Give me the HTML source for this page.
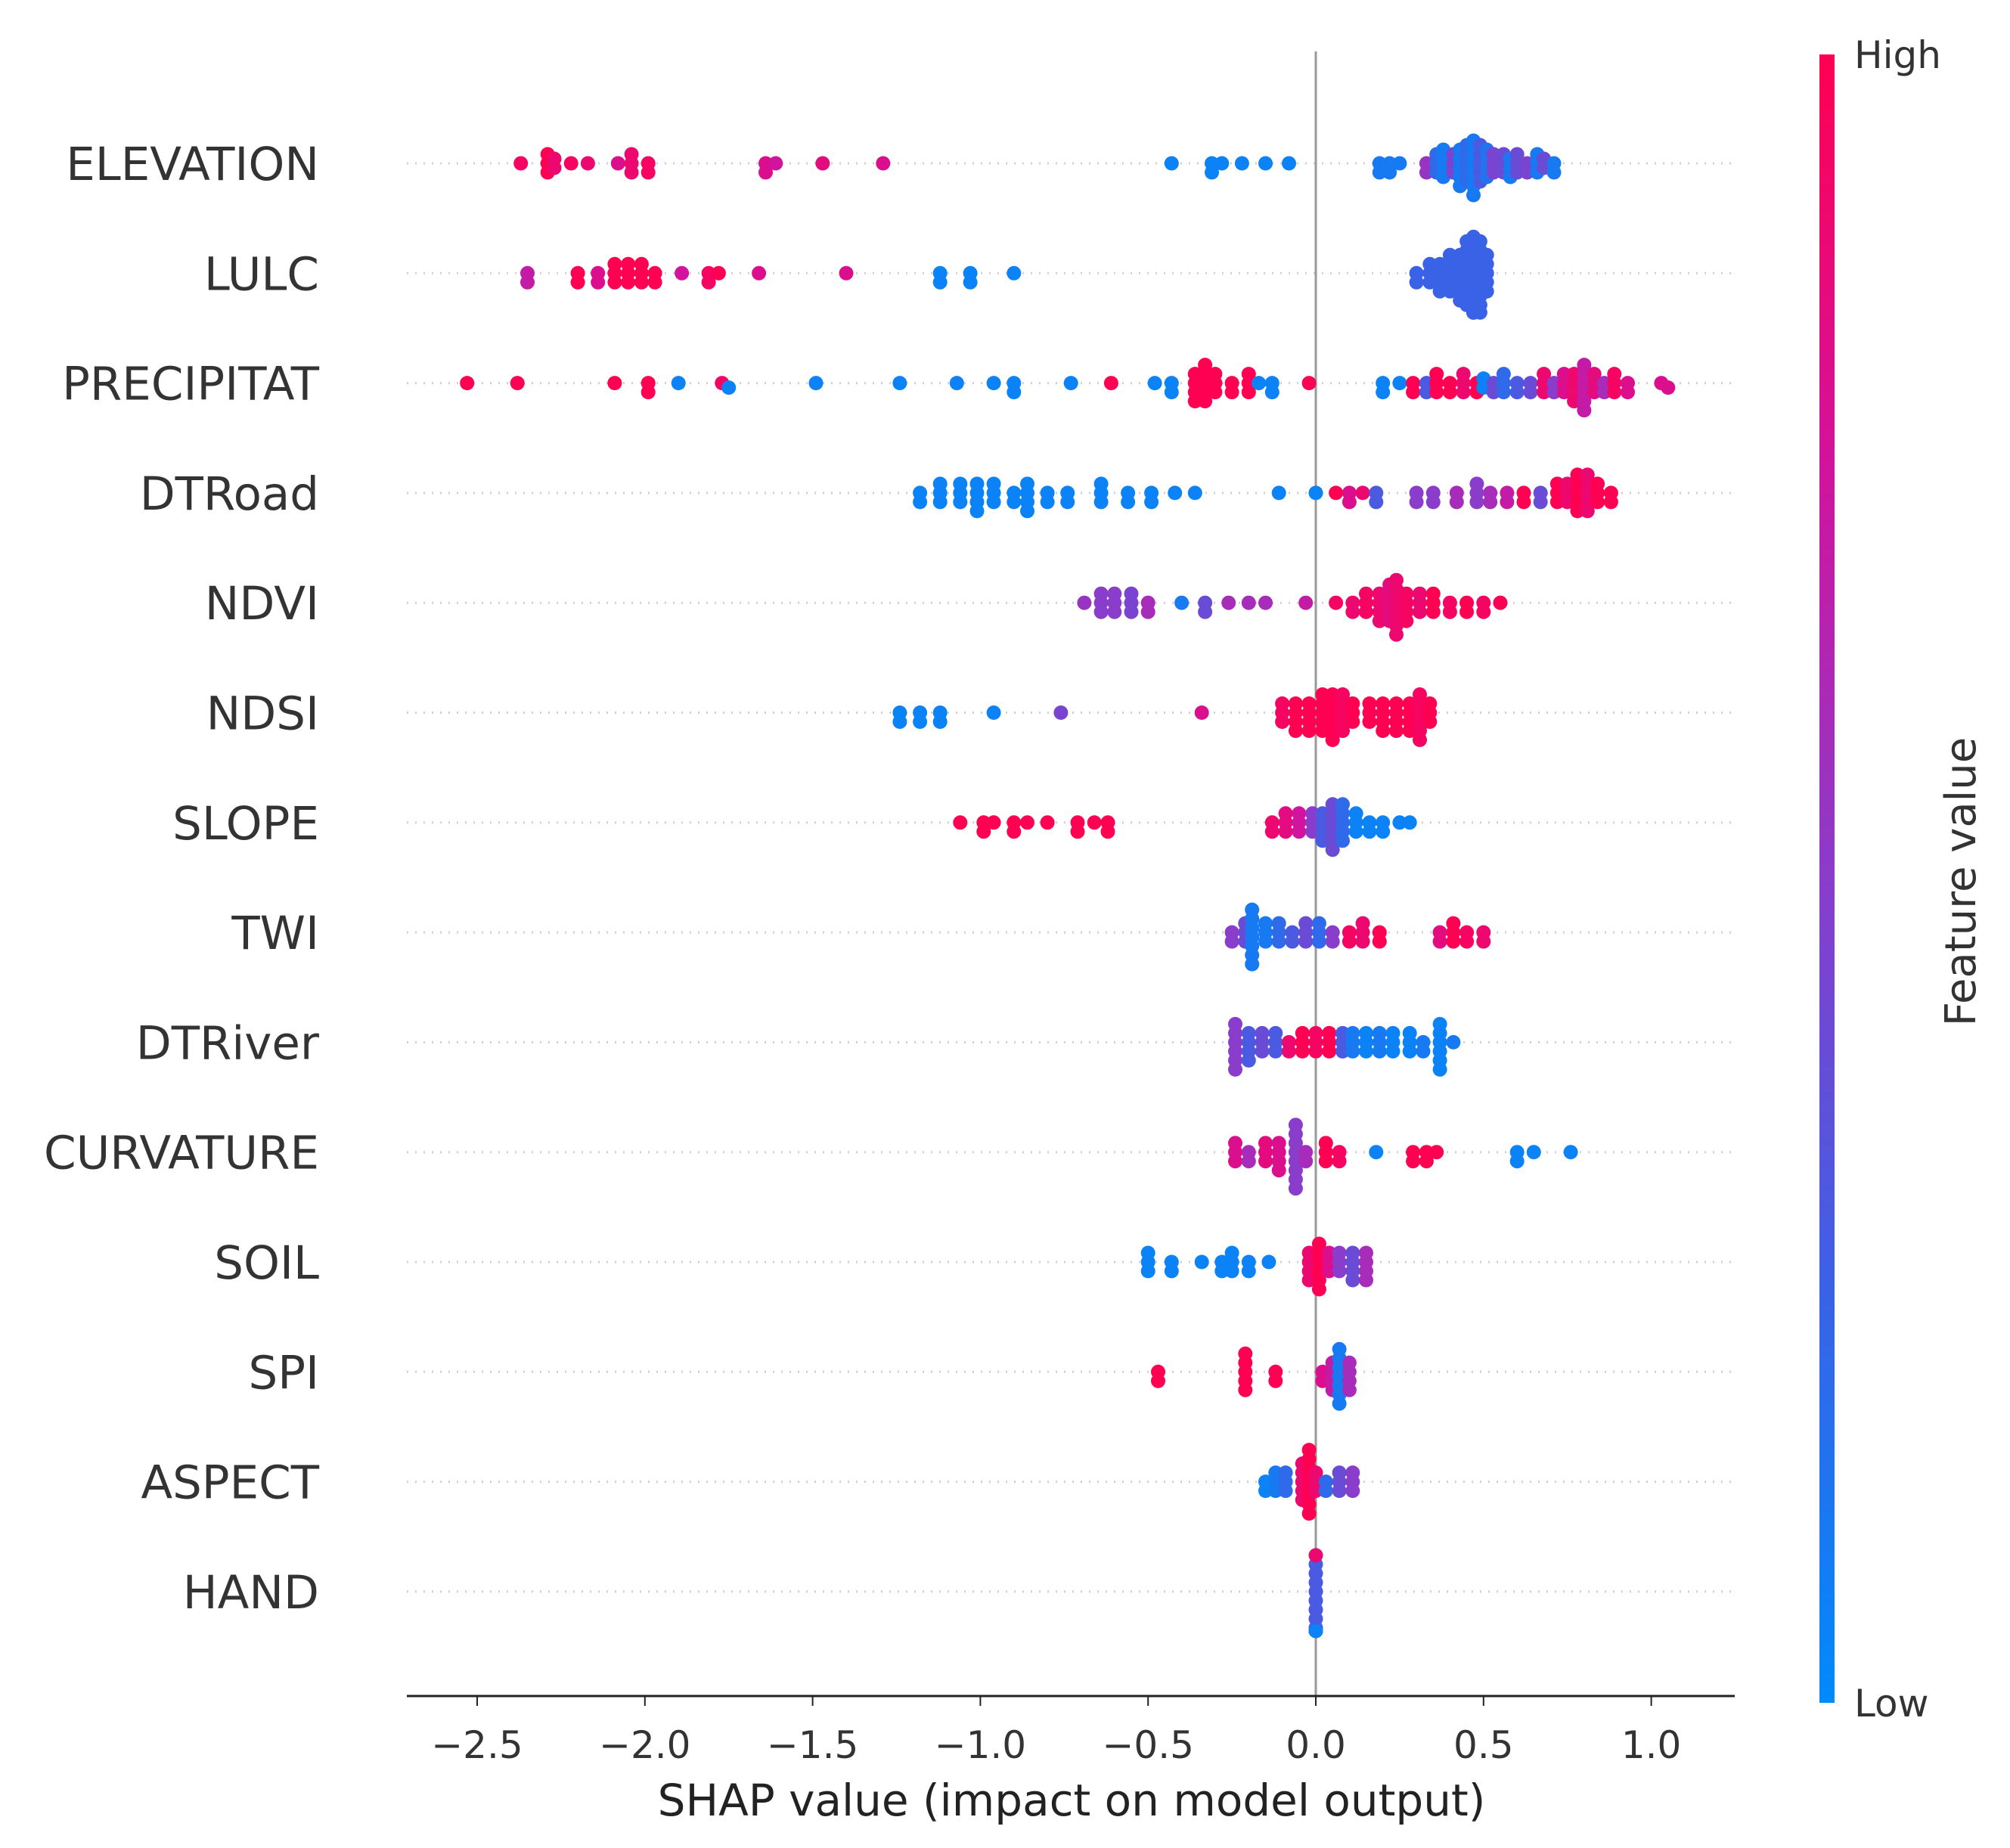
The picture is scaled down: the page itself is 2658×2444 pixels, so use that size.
<!DOCTYPE html>
<html><head><meta charset="utf-8"><style>
html,body{margin:0;padding:0;background:#fff;}
svg{display:block;font-family:"DejaVu Sans","Liberation Sans",sans-serif;}
</style></head><body>
<svg id="chart" width="2658" height="2444" viewBox="0 0 2658 2444" xmlns="http://www.w3.org/2000/svg">
<defs><linearGradient id="cbg" x1="0" y1="1" x2="0" y2="0">
<stop offset="0" stop-color="#008afb"/><stop offset="0.25" stop-color="#3a62e6"/><stop offset="0.5" stop-color="#8a3ccb"/><stop offset="0.75" stop-color="#d2139d"/><stop offset="1" stop-color="#ff0052"/>
</linearGradient></defs>
<g id="grid"></g><g id="dots"></g><g id="axes"></g>
</svg>
<script>
const features = ["ELEVATION","LULC","PRECIPITAT","DTRoad","NDVI","NDSI","SLOPE","TWI","DTRiver","CURVATURE","SOIL","SPI","ASPECT","HAND"];
const xTicks = [-2.5,-2.0,-1.5,-1.0,-0.5,0.0,0.5,1.0];
const xTickLabels = ["\u22122.5","\u22122.0","\u22121.5","\u22121.0","\u22120.5","0.0","0.5","1.0"];
// each point: [shap value, feature value (0 low .. 1 high), count]
const sElevation = [[-2.37,0.95,1],[-2.29,1,3],[-2.27,0.9,2],[-2.22,0.95,1],[-2.17,0.9,1],[-2.08,0.8,1],[-2.04,0.9,3],[-1.99,0.95,2],[-1.64,0.8,2],[-1.61,0.75,1],[-1.47,0.85,1],[-1.29,0.8,1],
 [-0.43,0.05,1],[-0.31,0.05,2],[-0.28,0.05,1],[-0.22,0.05,1],[-0.15,0.05,1],[-0.08,0.05,1],[0.19,0.1,2],[0.22,0.1,2],[0.25,0.1,1],
 [0.33,0.55,2],[0.36,0.2,3],[0.38,0.1,4],[0.41,0.45,3],[0.43,0.1,5],[0.45,0.2,5],[0.47,0.1,7],[0.49,0.3,5],[0.51,0.15,4],[0.53,0.45,3],[0.56,0.4,3],[0.58,0.1,3],[0.6,0.4,3],[0.63,0.45,2],[0.66,0.1,3],[0.68,0.4,2],[0.71,0.1,2]];
const sLulc = [[-2.35,0.7,2],[-2.2,1,2],[-2.14,0.8,2],[-2.09,1,3],[-2.05,1,3],[-2.01,1,3],[-1.97,1,2],[-1.89,0.75,1],[-1.81,0.95,2],[-1.78,1,1],[-1.66,0.8,1],[-1.4,0.8,1],
 [-1.12,0.05,2],[-1.03,0.05,2],[-0.9,0.05,1],[0.3,0.25,2],[0.34,0.25,3],[0.37,0.25,4],[0.4,0.25,5],[0.43,0.25,6],[0.45,0.25,8],[0.47,0.25,12],[0.49,0.25,9],[0.51,0.25,5]];
const sPrecip = [[-2.53,1,1],[-2.38,1,1],[-2.09,1,1],[-1.99,1,2],[-1.9,0.05,1],[-1.77,0.95,1],[-1.75,0.05,1],[-1.49,0.05,1],[-1.24,0.05,1],[-1.07,0.05,1],[-0.96,0.05,1],[-0.9,0.05,2],[-0.73,0.05,1],[-0.61,1,1],
 [-0.48,0.05,1],[-0.43,0.05,2],[-0.36,1,4],[-0.33,1,5],[-0.3,1,3],[-0.25,1,2],[-0.2,1,3],[-0.17,0.05,1],[-0.13,0.05,2],[-0.02,1,1],
 [0.2,0.05,2],[0.25,0.05,1],[0.29,1,2],[0.33,0.3,2],[0.36,1,3],[0.4,1,2],[0.44,0.9,3],[0.48,1,2],[0.5,0.05,2],[0.53,0.4,2],[0.56,0.2,3],[0.6,0.3,2],[0.64,0.4,2],[0.68,0.9,3],[0.71,0.5,2],
 [0.74,0.8,3],[0.77,0.9,4],[0.8,0.7,6],[0.83,0.85,3],[0.86,0.6,2],[0.89,0.95,3],[0.93,0.8,2],[1.03,0.8,1],[1.05,0.8,1]];
const sDtroad = [[-1.18,0.05,2],[-1.12,0.05,3],[-1.06,0.05,3],[-1.01,0.05,4],[-0.96,0.05,3],[-0.9,0.05,2],[-0.86,0.05,4],[-0.8,0.05,2],[-0.74,0.05,2],[-0.64,0.05,3],[-0.56,0.05,2],[-0.49,0.05,2],[-0.42,0.05,1],[-0.36,0.05,1],
 [-0.11,0.05,1],[0.0,0.05,1],[0.06,1,1],[0.1,0.8,2],[0.14,0.9,1],[0.18,0.3,2],[0.3,0.5,2],[0.35,0.5,2],[0.42,0.6,2],[0.48,0.5,3],[0.52,0.6,2],[0.57,0.7,2],[0.62,1,2],[0.67,0.4,2],
 [0.72,1,3],[0.75,0.9,3],[0.78,1,5],[0.81,0.9,5],[0.84,1,3],[0.88,1,2]];
const sNdvi = [[-0.69,0.55,1],[-0.64,0.5,3],[-0.6,0.5,3],[-0.55,0.45,3],[-0.5,0.6,2],[-0.4,0.1,1],[-0.33,0.4,2],[-0.26,0.6,1],[-0.2,0.6,1],[-0.15,0.6,1],[-0.03,0.7,1],[0.06,0.95,1],
 [0.11,0.9,2],[0.15,0.95,3],[0.19,0.9,4],[0.22,0.85,5],[0.24,0.9,7],[0.27,0.95,4],[0.31,0.9,3],[0.35,1,3],[0.4,0.95,2],[0.45,1,2],[0.5,0.95,2],[0.55,1,1]];
const sNdsi = [[-1.24,0.05,2],[-1.18,0.05,2],[-1.12,0.05,2],[-0.96,0.05,1],[-0.76,0.45,1],[-0.34,0.8,1],
 [-0.1,0.95,3],[-0.06,1,4],[-0.02,1,4],[0.02,1,5],[0.05,1,6],[0.08,0.95,5],[0.11,1,3],[0.16,1,3],[0.2,1,4],[0.24,1,4],[0.28,1,4],[0.31,0.95,6],[0.34,1,3]];
const sSlope = [[-1.06,1,1],[-0.99,1,2],[-0.96,1,1],[-0.9,1,2],[-0.86,1,1],[-0.8,1,1],[-0.71,1,2],[-0.66,1,1],[-0.62,1,2],
 [-0.13,0.9,2],[-0.09,0.85,3],[-0.05,0.75,3],[-0.01,0.5,3],[0.02,0.3,4],[0.05,0.4,6],[0.08,0.2,5],[0.12,0.05,3],[0.16,0.05,2],[0.2,0.05,2],[0.25,0.05,1],[0.28,0.05,1]];
const sTwi = [[-0.25,0.5,2],[-0.21,0.4,3],[-0.19,0.1,7],[-0.15,0.1,3],[-0.11,0.2,3],[-0.07,0.3,2],[-0.03,0.4,3],[0.01,0.2,3],[0.05,0.5,2],[0.1,0.95,2],[0.14,0.9,3],[0.19,1,2],
 [0.37,0.85,2],[0.41,1,3],[0.45,0.95,2],[0.5,0.9,2]];
const sDtriver = [[-0.24,0.5,6],[-0.2,0.3,4],[-0.16,0.4,3],[-0.12,0.3,3],[-0.08,0.9,2],[-0.04,1,3],[0.0,0.95,3],[0.04,1,3],[0.08,0.3,3],[0.11,0.1,3],[0.15,0.05,3],[0.19,0.1,3],[0.23,0.05,3],[0.28,0.05,3],[0.32,0.1,2],[0.37,0.05,6],[0.41,0.1,1]];
const sCurv = [[-0.24,0.8,3],[-0.2,0.6,2],[-0.15,0.85,3],[-0.11,0.8,4],[-0.06,0.5,8],[-0.03,0.6,2],[0.03,1,3],[0.07,0.95,2],[0.18,0.05,1],[0.29,1,2],[0.33,1,2],[0.36,1,1],[0.6,0.05,2],[0.65,0.05,1],[0.76,0.05,1]];
const sSoil = [[-0.5,0.05,3],[-0.43,0.05,2],[-0.34,0.05,1],[-0.28,0.05,2],[-0.25,0.05,3],[-0.2,0.05,2],[-0.14,0.05,1],[-0.02,0.9,4],[0.01,1,6],[0.04,0.8,3],[0.07,0.5,3],[0.11,0.4,4],[0.15,0.6,4]];
const sSpi = [[-0.47,1,2],[-0.21,1,5],[-0.12,1,2],[0.02,0.8,2],[0.05,0.7,4],[0.07,0.1,7],[0.1,0.6,4]];
const sAspect = [[-0.15,0.05,2],[-0.12,0.1,3],[-0.09,0.2,3],[-0.04,0.9,5],[-0.02,1,8],[0.0,0.9,3],[0.03,0.2,2],[0.07,0.4,3],[0.11,0.5,3]];
const sHand = [[0.0,0.3,8],[0.0,0.9,4],[0.0,0.05,4]];
const series = [sElevation,sLulc,sPrecip,sDtroad,sNdvi,sNdsi,sSlope,sTwi,sDtriver,sCurv,sSoil,sSpi,sAspect,sHand];

const NS="http://www.w3.org/2000/svg";
const X0=1740, UNIT=443.6, ROW0=216, ROWH=145.3, PL=538, PR=2294, AXY=2243, R=9.5;
const xs=v=>X0+v*UNIT, ys=i=>ROW0+i*ROWH;
function mk(t,a,p){const e=document.createElementNS(NS,t);for(const k in a)e.setAttribute(k,a[k]);p.appendChild(e);return e;}
const stops=[[0,[0,138,251]],[0.25,[58,98,230]],[0.5,[138,60,203]],[0.75,[210,19,157]],[1,[255,0,82]]];
function col(f){for(let i=1;i<stops.length;i++){if(f<=stops[i][0]){const a=stops[i-1],b=stops[i],t=(f-a[0])/(b[0]-a[0]);return 'rgb('+a[1].map((c,j)=>Math.round(c+(b[1][j]-c)*t)).join(',')+')';}}return 'rgb(255,0,82)';}
const grid=document.getElementById('grid'),dots=document.getElementById('dots'),axes=document.getElementById('axes');
features.forEach((name,i)=>{
  const l=mk('line',{x1:PL,x2:PR,y1:ys(i),y2:ys(i),stroke:'#d0d0d0','stroke-width':3,'stroke-dasharray':'2 9'},grid);
  
  
  const t=mk('text',{x:422,y:ys(i)+22,'text-anchor':'end','font-size':61,fill:'#333'},axes);
  t.textContent=name;
  
  
});
const zl=mk('line',{x1:X0,x2:X0,y1:68,y2:AXY,stroke:'#999','stroke-width':3},grid);


series.forEach((s,i)=>{
  const pts=[];s.forEach(p=>{for(let k=0;k<p[2];k++)pts.push({v:p[0],f:p[1]});});
  pts.sort((a,b)=>a.v-b.v);
  const placed=[];
  const MIND=R*1.0;
  pts.forEach(p=>{
    const px=xs(p.v);let off=0;
    for(let k=0;k<30;k++){
      const cand=k===0?0:(k%2?1:-1)*Math.ceil(k/2)*6;
      if(Math.abs(cand)>52){off=(k%2?1:-1)*52;break;}
      const ok=placed.every(q=>{const dx=q.x-px,dy=q.o-cand;return dx*dx+dy*dy>=MIND*MIND;});
      if(ok){off=cand;break;}
    }
    placed.push({x:px,o:off,f:p.f});
  });
  placed.forEach(q=>{
    const c=mk('circle',{cx:q.x.toFixed(1),cy:(ys(i)+q.o).toFixed(1),r:R,fill:col(q.f)},dots);
    
    
  });
});
const ax=mk('line',{x1:PL,x2:PR,y1:AXY,y2:AXY,stroke:'#222','stroke-width':3},axes);


xTicks.forEach((v,j)=>{
  const tk=mk('line',{x1:xs(v),x2:xs(v),y1:AXY,y2:AXY+13,stroke:'#222','stroke-width':2},axes);
  
  
  const t=mk('text',{x:xs(v),y:2325,'text-anchor':'middle','font-size':50,fill:'#333'},axes);
  t.textContent=xTickLabels[j];
  
  
});
const xt=mk('text',{x:1417,y:2401,'text-anchor':'middle','font-size':58,fill:'#222'},axes);
xt.textContent='SHAP value (impact on model output)';


const cb=mk('rect',{x:2406,y:72,width:20,height:2180,fill:'url(#cbg)'},axes);


const hi=mk('text',{x:2452,y:90,'font-size':50,fill:'#333'},axes);hi.textContent='High';


const lo=mk('text',{x:2452,y:2270,'font-size':50,fill:'#333'},axes);lo.textContent='Low';


const fv=mk('text',{x:0,y:0,'text-anchor':'middle','font-size':56,fill:'#333',transform:'translate(2612,1166) rotate(-90)'},axes);
fv.textContent='Feature value';


</script>
</body></html>
